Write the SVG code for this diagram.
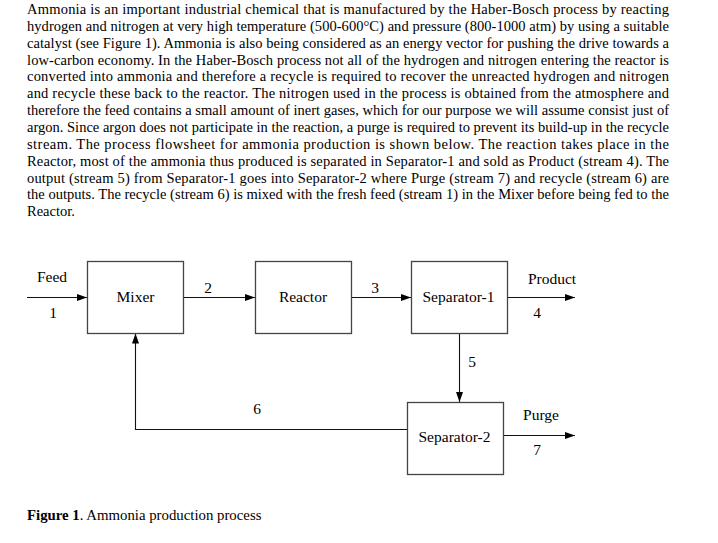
<svg xmlns="http://www.w3.org/2000/svg" width="718" height="543" viewBox="0 0 718 543">
<style>
  .p { font-family: "Liberation Serif", "Times New Roman", serif; font-size: 14.5px; fill: #000; }
  .cap { font-family: "Liberation Serif", "Times New Roman", serif; font-size: 14.8px; fill: #000; }
  .lbl { font-family: "Liberation Serif", "Times New Roman", serif; font-size: 15.5px; fill: #000; }
  .box { fill: #fff; stroke: #444; stroke-width: 1.3; }
  .conn { fill: none; stroke: #111; stroke-width: 1.1; }
</style>
<defs>
  <marker id="arr" markerUnits="userSpaceOnUse" markerWidth="11" markerHeight="8" refX="10" refY="3.5" orient="auto">
    <path d="M0,0 L10,3.5 L0,7 z" fill="#000"/>
  </marker>
</defs>
<rect width="718" height="543" fill="#fff"/>
<g id="paragraph" class="p">
  <text x="27" y="14" textLength="642" lengthAdjust="spacing">Ammonia is an important industrial chemical that is manufactured by the Haber-Bosch process by reacting</text>
  <text x="27" y="30.85" textLength="642" lengthAdjust="spacing">hydrogen and nitrogen at very high temperature (500-600°C) and pressure (800-1000 atm) by using a suitable</text>
  <text x="27" y="47.7" textLength="642" lengthAdjust="spacing">catalyst (see Figure 1). Ammonia is also being considered as an energy vector for pushing the drive towards a</text>
  <text x="27" y="64.55" textLength="642" lengthAdjust="spacing">low-carbon economy. In the Haber-Bosch process not all of the hydrogen and nitrogen entering the reactor is</text>
  <text x="27" y="81.4" textLength="642" lengthAdjust="spacing">converted into ammonia and therefore a recycle is required to recover the unreacted hydrogen and nitrogen</text>
  <text x="27" y="98.25" textLength="642" lengthAdjust="spacing">and recycle these back to the reactor. The nitrogen used in the process is obtained from the atmosphere and</text>
  <text x="27" y="115.1" textLength="642" lengthAdjust="spacing">therefore the feed contains a small amount of inert gases, which for our purpose we will assume consist just of</text>
  <text x="27" y="131.95" textLength="642" lengthAdjust="spacing">argon. Since argon does not participate in the reaction, a purge is required to prevent its build-up in the recycle</text>
  <text x="27" y="148.8" textLength="642" lengthAdjust="spacing">stream. The process flowsheet for ammonia production is shown below. The reaction takes place in the</text>
  <text x="27" y="165.65" textLength="642" lengthAdjust="spacing">Reactor, most of the ammonia thus produced is separated in Separator-1 and sold as Product (stream 4). The</text>
  <text x="27" y="182.5" textLength="642" lengthAdjust="spacing">output (stream 5) from Separator-1 goes into Separator-2 where Purge (stream 7) and recycle (stream 6) are</text>
  <text x="27" y="199.35" textLength="642" lengthAdjust="spacing">the outputs. The recycle (stream 6) is mixed with the fresh feed (stream 1) in the Mixer before being fed to the</text>
  <text x="27" y="216.2">Reactor.</text>
</g>
<g id="connectors">
  <path class="conn" d="M27,297.5 H87" marker-end="url(#arr)"/>
  <path class="conn" d="M183.5,297.5 H255" marker-end="url(#arr)"/>
  <path class="conn" d="M351.5,297.5 H411" marker-end="url(#arr)"/>
  <path class="conn" d="M507.5,297.5 H575" marker-end="url(#arr)"/>
  <path class="conn" d="M459.5,333.5 V402" marker-end="url(#arr)"/>
  <path class="conn" d="M503.5,435.5 H575" marker-end="url(#arr)"/>
  <path class="conn" d="M407,429.5 H135.5 V333.5" marker-end="url(#arr)"/>
  <g class="lbl" text-anchor="middle">
    <text x="52" y="282">Feed</text>
    <text x="53" y="318">1</text>
    <text x="208" y="293">2</text>
    <text x="375" y="293">3</text>
    <text x="552" y="284">Product</text>
    <text x="537" y="318">4</text>
    <text x="472" y="367">5</text>
    <text x="257" y="414">6</text>
    <text x="541" y="420">Purge</text>
    <text x="537" y="455">7</text>
  </g>
</g>
<g id="mixer">
  <rect class="box" x="87.5" y="261.5" width="96" height="72"/>
  <text class="lbl" x="135.5" y="302" text-anchor="middle">Mixer</text>
</g>
<g id="reactor">
  <rect class="box" x="255.5" y="261.5" width="96" height="72"/>
  <text class="lbl" x="303" y="302" text-anchor="middle">Reactor</text>
</g>
<g id="separator-1">
  <rect class="box" x="411.5" y="261.5" width="96" height="72"/>
  <text class="lbl" x="458.5" y="302" text-anchor="middle">Separator-1</text>
</g>
<g id="separator-2">
  <rect class="box" x="407.5" y="402.5" width="96" height="72"/>
  <text class="lbl" x="454.5" y="442" text-anchor="middle">Separator-2</text>
</g>
<g id="caption">
  <text class="cap" x="27" y="520"><tspan font-weight="bold">Figure 1</tspan>. Ammonia production process</text>
</g>
</svg>
